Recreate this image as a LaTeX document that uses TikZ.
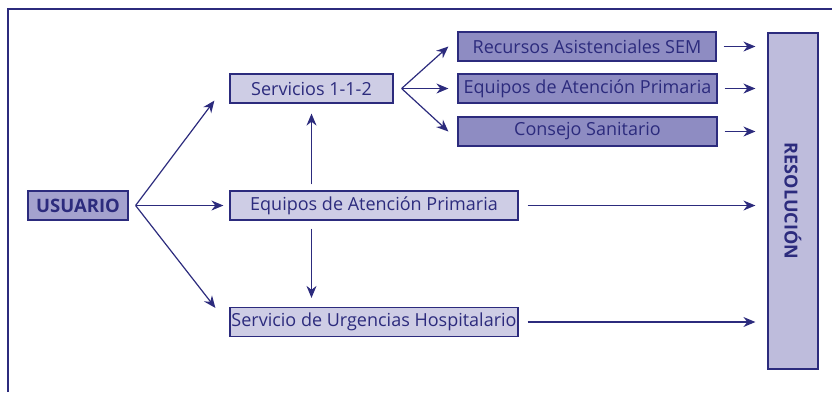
\documentclass[tikz,border=0pt]{standalone}
\usepackage{fontspec}
\setmainfont{Open Sans}
\usetikzlibrary{arrows.meta}
\definecolor{navy}{RGB}{44,43,125}
\definecolor{lightlav}{RGB}{206,205,229}
\definecolor{darklav}{RGB}{142,140,194}
\definecolor{midlav}{RGB}{164,162,206}
\definecolor{reslav}{RGB}{190,188,220}

\begin{document}
\begin{tikzpicture}[x=1pt,y=-1pt,
        box/.style={draw=navy,line width=1.2pt,text=navy,inner sep=0pt,
          minimum height=29pt,font=\fontsize{18}{18}\selectfont},
        light/.style={box,fill=lightlav},
        dark/.style={box,fill=darklav},
        arr/.style={draw=navy,line width=1.2pt,-{Stealth[length=12pt,width=10pt]}}]

    \useasboundingbox (0,0) rectangle (832,392);
    \draw[navy,line width=2.4pt] (8,392) -- (8,9) -- (832,9);

    \node[box,fill=midlav,minimum width=100pt,font=\fontsize{18.5}{18.5}\selectfont\bfseries] (u) at (78,205.5) {USUARIO};
    \node[light,minimum width=163pt] (s) at (311.5,88.5) {Servicios 1-1-2};
    \node[light,minimum width=288pt] (e) at (374,205.5) {Equipos de Atención Primaria};
    \node[light,minimum width=288pt] (h) at (374,322) {Servicio de Urgencias Hospitalario};

    \node[dark,minimum width=258pt] (r1) at (587,46.5) {Recursos Asistenciales SEM};
    \node[dark,minimum width=259pt] (r2) at (587.5,88.5) {Equipos de Atención Primaria};
    \node[dark,minimum width=259pt] (r3) at (587.5,131.5) {Consejo Sanitario};

    \node[box,fill=reslav,rotate=-90,minimum width=336pt,minimum height=50pt,
      font=\fontsize{18}{18}\selectfont\bfseries] (R) at (793,201) {RESOLUCIÓN};

    \draw[arr] ([xshift=7pt]u.east) -- ([xshift=-15pt,yshift=3pt]s.south west);
    \draw[arr] ([xshift=7pt]u.east) -- ([xshift=-6pt]e.west);
    \draw[arr] ([xshift=7pt]u.east) -- ([xshift=-14pt,yshift=-1pt]h.north west);

    \draw[arr] ([xshift=8pt]s.east) -- ([xshift=-9pt]r1.west);
    \draw[arr] ([xshift=8pt]s.east) -- ([xshift=-9pt]r2.west);
    \draw[arr] ([xshift=8pt]s.east) -- ([xshift=-9pt]r3.west);

    \draw[arr] ([yshift=6pt]e.north -| s.south) -- ([yshift=-10pt]s.south);
    \draw[arr] ([yshift=-8pt]e.south -| s.south) -- ([yshift=9pt]h.north -| s.south);

    \draw[arr] ([xshift=7pt]r1.east) -- ([xshift=-12pt]r1.east -| R.south);
    \draw[arr] ([xshift=7pt]r2.east) -- ([xshift=-12pt]r2.east -| R.south);
    \draw[arr] ([xshift=7pt]r3.east) -- ([xshift=-12pt]r3.east -| R.south);
    \draw[arr] ([xshift=9pt]e.east) -- ([xshift=-12pt]e.east -| R.south);
    \draw[arr] ([xshift=9pt]h.east) -- ([xshift=-12pt]h.east -| R.south);
    \end{tikzpicture}
\end{document}
